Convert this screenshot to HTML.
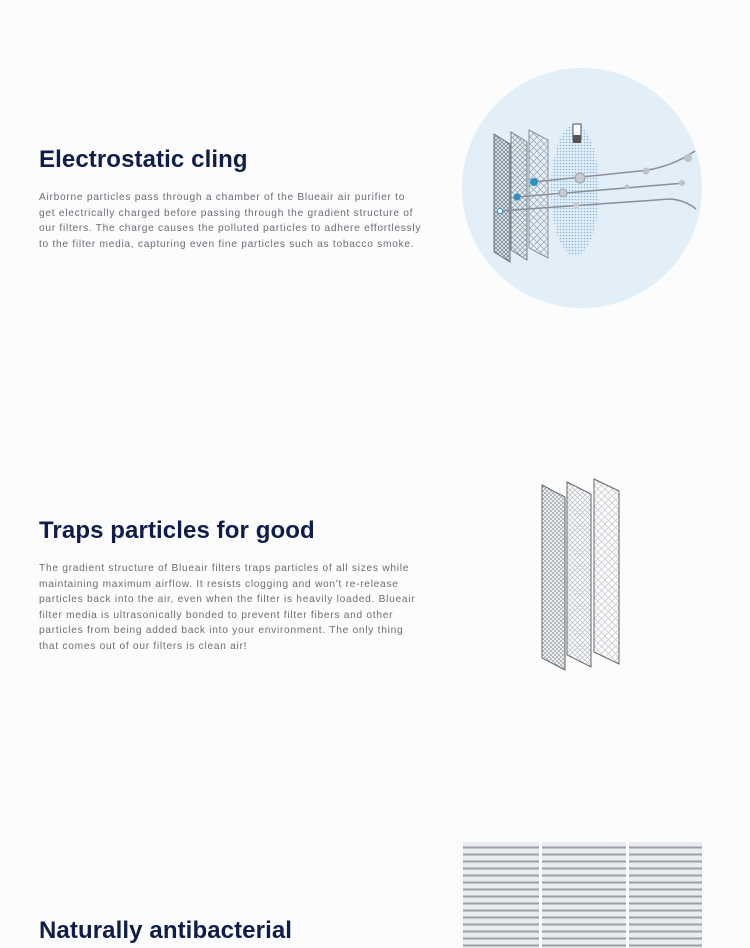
<!DOCTYPE html>
<html><head><meta charset="utf-8"><style>
html,body{margin:0;padding:0;background:#fcfcfd;width:750px;height:948px;overflow:hidden;position:relative;font-family:"Liberation Sans",sans-serif}
h2{position:absolute;left:39px;margin:0;font-size:24px;font-weight:bold;color:#0e1e48;letter-spacing:0.1px}
p{position:absolute;left:39px;margin:0;font-size:10.2px;line-height:15.5px;color:#6a6d74;letter-spacing:0.72px;width:385px}
svg{position:absolute}
</style></head><body>
<h2 style="top:146px">Electrostatic cling</h2>
<p style="top:190px">Airborne particles pass through a chamber of the Blueair air purifier to get electrically charged before passing through the gradient structure of our filters. The charge causes the polluted particles to adhere effortlessly to the filter media, capturing even fine particles such as tobacco smoke.</p>

<svg style="left:460px;top:60px" width="250" height="250" viewBox="0 0 250 250">
<defs>
<pattern id="m1" width="4" height="4" patternUnits="userSpaceOnUse"><path d="M0 0L4 4M4 0L0 4" stroke="#7d8590" stroke-width="0.8"/></pattern>
<pattern id="m2" width="5" height="5" patternUnits="userSpaceOnUse"><path d="M0 0L5 5M5 0L0 5" stroke="#8e96a0" stroke-width="0.7"/></pattern>
<pattern id="m3" width="7" height="7" patternUnits="userSpaceOnUse"><path d="M0 0L7 7M7 0L0 7" stroke="#9aa2ab" stroke-width="0.7"/></pattern>
<pattern id="dots" width="3" height="3" patternUnits="userSpaceOnUse"><circle cx="1.5" cy="1.5" r="0.8" fill="#6fa9d3"/></pattern>
</defs>
<circle cx="122" cy="128" r="120" fill="#e2eef8"/>
<polygon points="34,74 50,84 50,202 34,192" fill="url(#m1)" stroke="#6f7780"/>
<polygon points="51,72 67,82 67,200 51,190" fill="url(#m2)" stroke="#7a828c"/>
<polygon points="69,70 88,80 88,198 69,188" fill="url(#m3)" stroke="#8a929b"/>
<ellipse cx="115" cy="130" rx="24" ry="66" fill="url(#dots)" opacity="0.8"/>
<rect x="113" y="64" width="8" height="16" fill="#fff" stroke="#555"/>
<rect x="113" y="75" width="8" height="8" fill="#555"/>
<path d="M74 122L180 111Q210 108 235 91" stroke="#8a8f96" stroke-width="1.5" fill="none"/>
<path d="M57 137L225 123" stroke="#8a8f96" stroke-width="1.5" fill="none"/>
<path d="M40 151L210 139Q225 140 236 149" stroke="#8a8f96" stroke-width="1.5" fill="none"/>
<circle cx="74" cy="122" r="4" fill="#2f8fc4"/><circle cx="57" cy="137" r="3.5" fill="#2f8fc4"/><circle cx="40" cy="151" r="2.5" fill="#fff" stroke="#2f8fc4"/>
<circle cx="120" cy="118" r="5" fill="#c8ccd2" stroke="#9aa0a8"/><circle cx="103" cy="133" r="4" fill="#c8ccd2" stroke="#9aa0a8"/><circle cx="116" cy="145" r="3" fill="#c8ccd2"/>
<circle cx="186" cy="111" r="3.5" fill="#bfc3c8"/><circle cx="167" cy="127" r="2.5" fill="#bfc3c8"/><circle cx="228" cy="98" r="4" fill="#bfc3c8"/><circle cx="222" cy="123" r="3" fill="#bfc3c8"/>
</svg>

<h2 style="top:517px">Traps particles for good</h2>
<p style="top:561px;width:380px">The gradient structure of Blueair filters traps particles of all sizes while maintaining maximum airflow. It resists clogging and won't re-release particles back into the air, even when the filter is heavily loaded. Blueair filter media is ultrasonically bonded to prevent filter fibers and other particles from being added back into your environment. The only thing that comes out of our filters is clean air!</p>

<svg style="left:535px;top:475px" width="95" height="200">
<polygon points="7,10 30,22 30,195 7,183" fill="url(#m1)" stroke="#666" fill-opacity="0.7"/>
<polygon points="32,7 56,19 56,192 32,180" fill="url(#m2)" stroke="#666" fill-opacity="0.6"/>
<polygon points="59,4 84,16 84,189 59,177" fill="url(#m3)" stroke="#666" fill-opacity="0.6"/>
</svg>

<h2 style="top:917px">Naturally antibacterial</h2>
<svg style="left:463px;top:842px" width="239" height="106">
<defs><pattern id="sl" width="239" height="7" patternUnits="userSpaceOnUse"><rect width="239" height="7" fill="#e9ebee"/><rect y="4.5" width="239" height="2" fill="#9aa0a8"/></pattern></defs>
<rect width="239" height="106" fill="url(#sl)"/>
<rect x="76" width="3" height="106" fill="#fff"/><rect x="163" width="3" height="106" fill="#fff"/>
</svg>
</body></html>
